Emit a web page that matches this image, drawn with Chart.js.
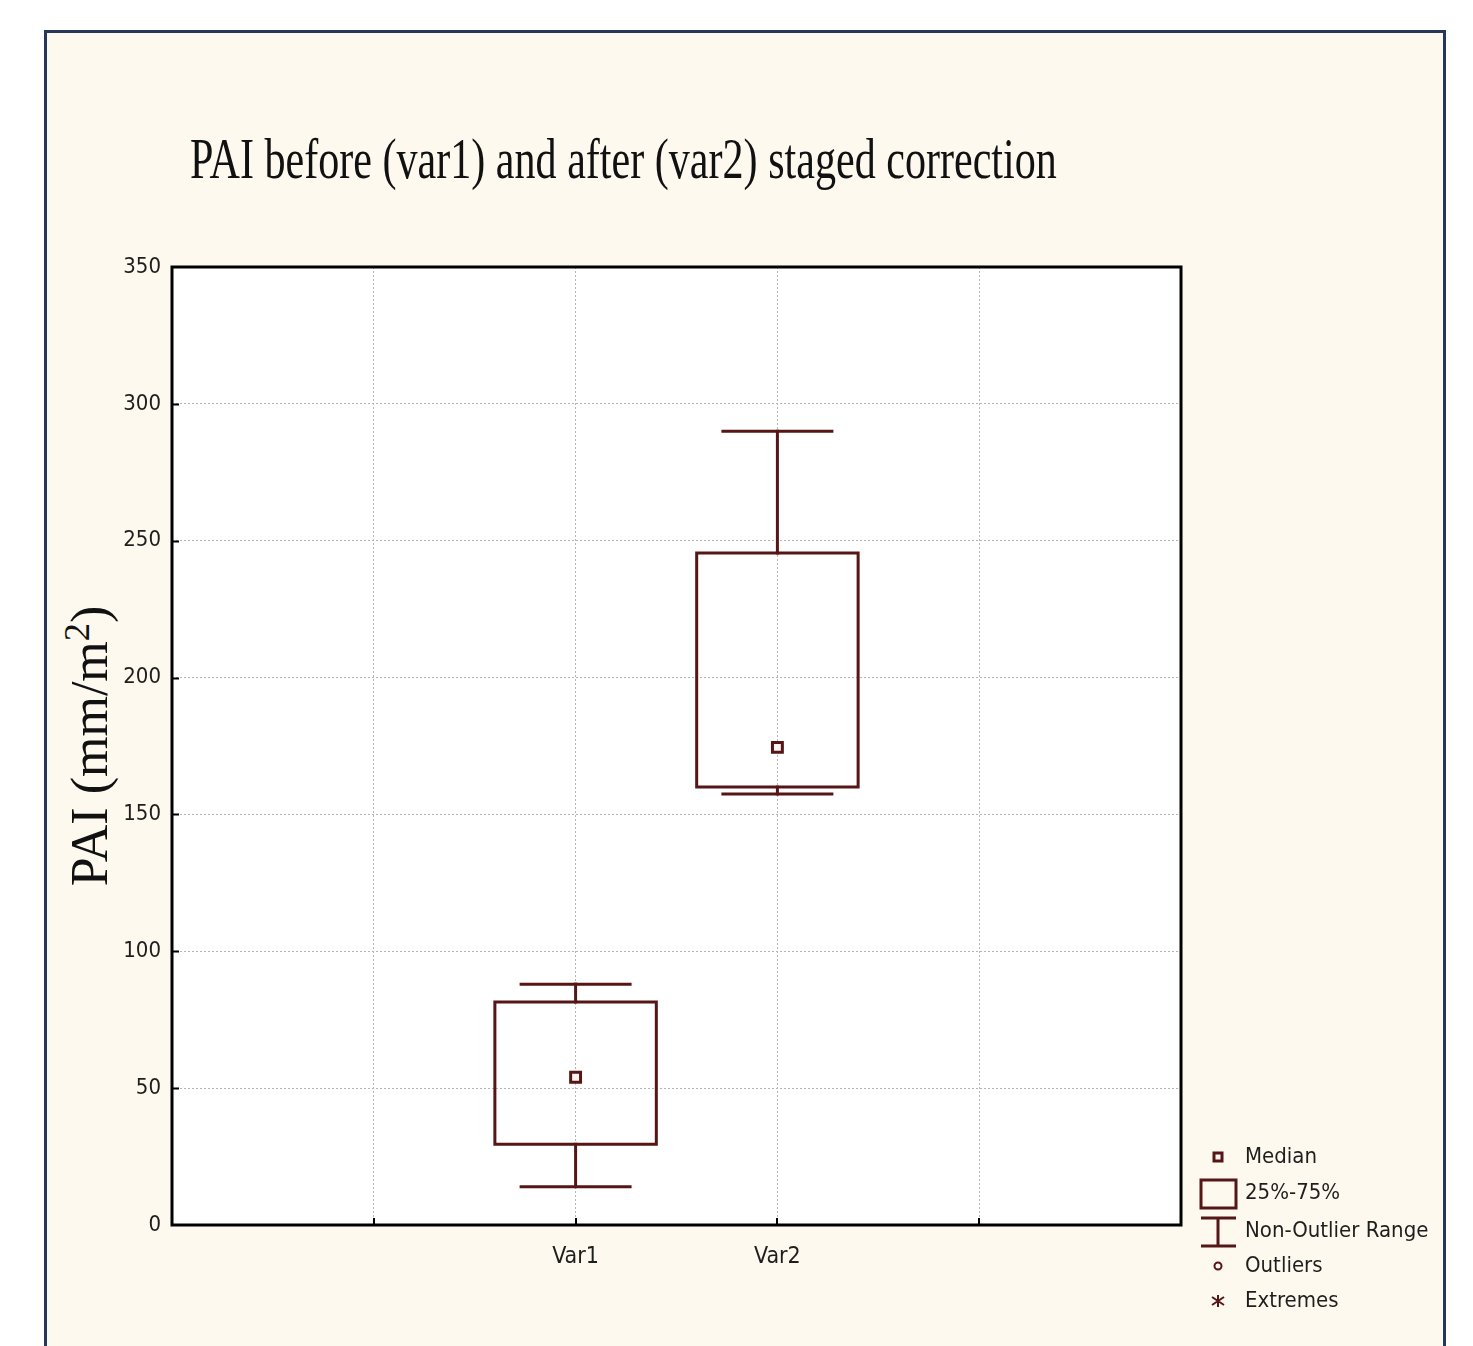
<!DOCTYPE html>
<html>
<head>
<meta charset="utf-8">
<title>PAI box plot</title>
<script src="https://cdn.jsdelivr.net/npm/chart.js@4.4.1/dist/chart.umd.min.js"></script>
<style>
  html, body { margin: 0; padding: 0; background: #ffffff; }
  #page { position: relative; width: 1473px; height: 1346px; overflow: hidden; }
  #frame {
    position: absolute; left: 44px; top: 30px; width: 1396px; height: 1400px;
    border: 3px solid #26385a; background: #fdf9ee;
  }
  #title {
    position: absolute; left: 190px; top: 130px;
    font-family: "Liberation Serif", "Times New Roman", serif;
    font-size: 57px; line-height: 1; white-space: nowrap; color: #111;
    transform-origin: 0 0;
  }
  #ytitle {
    position: absolute; left: 90px; top: 746px;
    font-family: "Liberation Serif", "Times New Roman", serif;
    font-size: 52px; line-height: 1; white-space: nowrap; color: #111;
    transform: translate(-50%, -50%) rotate(-90deg);
  }
  #ytitle span { font-size: 0.7em; position: relative; top: -0.5em; }
  canvas { position: absolute; left: 0; top: 0; }
</style>
</head>
<body>
<div id="page">
  <div id="frame"></div>
  <div id="title">PAI before (var1) and after (var2) staged correction</div>
  <div id="ytitle">PAI (mm/m<span>2</span>)</div>
  <canvas id="chart" width="1473" height="1346"></canvas>
</div>
<script>
// values
const categories = ["Var1", "Var2"];
const xPositions = [2, 3]; // slots on the 0..5 x axis
const minValues = [14, 157.5];
const q1Values = [29.5, 160];
const medianValues = [54, 174.5];
const q3Values = [81.5, 245.5];
const maxValues = [88, 290];

const yMin = 0;
const yMax = 350;
const yStep = 50;

const legendLabels = ["Median", "25%-75%", "Non-Outlier Range", "Outliers", "Extremes"];

const lineColor = "#561616";
const gridColor = "#b4b4b4";
const textFont = "'Liberation Sans Narrow', 'DejaVu Sans Condensed', 'Arial Narrow', sans-serif";
const boxHalf = 0.4;
const capHalf = 0.27;

// squeeze the title to the width it has in the picture
const titleEl = document.getElementById("title");
titleEl.style.transform = "scaleX(" + (867 / titleEl.offsetWidth) + ")";

// build the box plot out of line segments
const datasets = [];
function segment(points) {
  datasets.push({
    data: points,
    showLine: true,
    borderColor: lineColor,
    borderWidth: 3,
    borderCapStyle: "square",
    borderJoinStyle: "miter",
    pointRadius: 0,
    fill: false,
  });
}

categories.forEach((name, i) => {
  const x = xPositions[i];
  // whiskers
  segment([{ x: x, y: q3Values[i] }, { x: x, y: maxValues[i] }]);
  segment([{ x: x, y: minValues[i] }, { x: x, y: q1Values[i] }]);
  // whisker caps
  segment([{ x: x - capHalf, y: maxValues[i] }, { x: x + capHalf, y: maxValues[i] }]);
  segment([{ x: x - capHalf, y: minValues[i] }, { x: x + capHalf, y: minValues[i] }]);
  // the 25%-75% box
  segment([
    { x: x - boxHalf, y: q1Values[i] },
    { x: x + boxHalf, y: q1Values[i] },
    { x: x + boxHalf, y: q3Values[i] },
    { x: x - boxHalf, y: q3Values[i] },
    { x: x - boxHalf, y: q1Values[i] },
  ]);
});

// medians as small squares
datasets.push({
  data: categories.map((c, i) => ({ x: xPositions[i], y: medianValues[i] })),
  showLine: false,
  pointStyle: "rect",
  pointRadius: 7,
  pointBorderWidth: 3,
  pointBackgroundColor: "#fff4f4",
  pointBorderColor: lineColor,
});

// white plot area, black frame, inner tick marks and the legend
const decorations = {
  id: "decorations",
  beforeDraw(chart) {
    const a = chart.chartArea;
    const ctx = chart.ctx;
    ctx.save();
    ctx.fillStyle = "#ffffff";
    ctx.fillRect(a.left, a.top, a.right - a.left, a.bottom - a.top);
    ctx.restore();
  },
  afterDraw(chart) {
    const a = chart.chartArea;
    const ctx = chart.ctx;
    const xs = chart.scales.x;
    const ys = chart.scales.y;
    ctx.save();

    ctx.strokeStyle = "#000";
    ctx.lineWidth = 3;
    ctx.strokeRect(a.left, a.top, a.right - a.left, a.bottom - a.top);

    // small ticks pointing into the plot
    ctx.lineWidth = 2;
    ctx.beginPath();
    for (let v = yMin + yStep; v < yMax; v += yStep) {
      const py = Math.round(ys.getPixelForValue(v)) + 0.5;
      ctx.moveTo(a.left, py);
      ctx.lineTo(a.left + 7, py);
    }
    for (let v = 1; v < 5; v++) {
      const px = Math.round(xs.getPixelForValue(v));
      ctx.moveTo(px, a.bottom);
      ctx.lineTo(px, a.bottom - 7);
    }
    ctx.stroke();

    // legend
    const sx = 1218;
    const rows = [1157, 1193, 1231, 1266, 1301];
    ctx.strokeStyle = lineColor;
    ctx.lineWidth = 3;
    ctx.fillStyle = "#fff4f4";
    ctx.fillRect(sx - 4, rows[0] - 4, 8, 8);
    ctx.strokeRect(sx - 4, rows[0] - 4, 8, 8);
    ctx.strokeRect(1201, 1180, 35, 28);
    ctx.beginPath();
    ctx.moveTo(1201, 1218); ctx.lineTo(1236, 1218);
    ctx.moveTo(sx, 1218); ctx.lineTo(sx, 1246);
    ctx.moveTo(1201, 1246); ctx.lineTo(1236, 1246);
    ctx.stroke();
    ctx.lineWidth = 2;
    ctx.beginPath();
    ctx.arc(sx, rows[3], 3.5, 0, Math.PI * 2);
    ctx.stroke();
    ctx.beginPath();
    ctx.moveTo(sx, rows[4] - 6); ctx.lineTo(sx, rows[4] + 6);
    ctx.moveTo(sx - 6, rows[4] - 4); ctx.lineTo(sx + 6, rows[4] + 4);
    ctx.moveTo(sx - 6, rows[4] + 4); ctx.lineTo(sx + 6, rows[4] - 4);
    ctx.stroke();

    ctx.fillStyle = "#1e1e1e";
    ctx.font = "22px " + textFont;
    ctx.textBaseline = "middle";
    ctx.textAlign = "left";
    legendLabels.forEach((label, i) => {
      ctx.fillText(label, 1245, rows[i]);
    });
    ctx.restore();
  },
};

new Chart(document.getElementById("chart"), {
  type: "scatter",
  data: { datasets: datasets },
  plugins: [decorations],
  options: {
    responsive: false,
    animation: false,
    layout: { padding: { top: 267, right: 292, left: 0, bottom: 0 } },
    plugins: {
      legend: { display: false },
      tooltip: { enabled: false },
      title: { display: false },
    },
    scales: {
      x: {
        type: "linear",
        min: 0,
        max: 5,
        afterFit: (scale) => { scale.height = 121; },
        ticks: {
          stepSize: 1,
          padding: 18,
          color: "#1e1e1e",
          font: { family: textFont, size: 23 },
          callback: (value) => {
            const i = xPositions.indexOf(value);
            return i >= 0 ? categories[i] : "";
          },
        },
        grid: { color: gridColor, lineWidth: 1, drawTicks: false },
        border: { display: false, dash: [2, 2] },
      },
      y: {
        min: yMin,
        max: yMax,
        afterFit: (scale) => { scale.width = 172; },
        ticks: {
          stepSize: yStep,
          padding: 11,
          color: "#1e1e1e",
          font: { family: textFont, size: 22 },
        },
        grid: { color: gridColor, lineWidth: 1, drawTicks: false },
        border: { display: false, dash: [2, 2] },
      },
    },
  },
});
</script>
</body>
</html>
